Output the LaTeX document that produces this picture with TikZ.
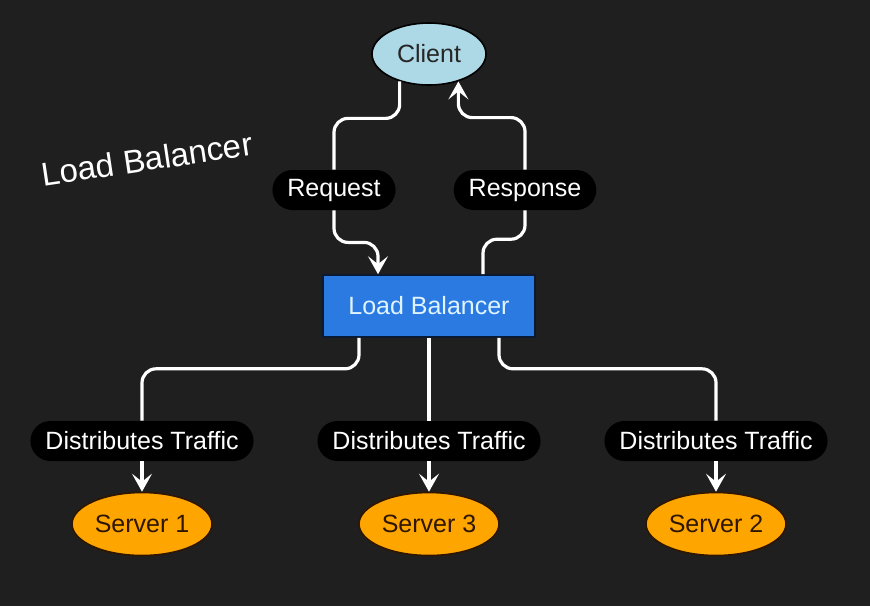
\documentclass[tikz,border=0pt]{standalone}
\usepackage{fontspec}
\setmainfont{Liberation Sans}
\usetikzlibrary{arrows.meta,positioning,calc,shapes.geometric}
\definecolor{bg}{HTML}{1F1F1F}
\definecolor{sky}{HTML}{ADD8E6}
\definecolor{lbblue}{HTML}{2A7AE2}
\definecolor{lbtext}{HTML}{E0F4FF}
\definecolor{navy}{HTML}{0B1A33}
\definecolor{amber}{HTML}{FFA500}
\definecolor{rust}{HTML}{2E1600}

\begin{document}
\begin{tikzpicture}[x=0.5pt,y=-0.5pt,font=\fontsize{12.5}{15}\selectfont,
              cl/.style={ellipse,draw=black,line width=0.8pt,fill=sky,text=black!85,
                minimum width=57pt,minimum height=31pt,inner sep=0},
              srv/.style={ellipse,draw=rust,line width=0.8pt,fill=amber,text=rust,
                minimum width=70pt,minimum height=31.5pt,inner sep=0},
              lbbox/.style={rectangle,draw=navy,line width=0.8pt,fill=lbblue,text=lbtext,
                minimum width=106pt,minimum height=31pt,inner sep=0},
              pill/.style={rectangle,rounded corners=10pt,fill=black,text=white,
                minimum height=20pt,inner xsep=7.5pt,inner ysep=0},
              flow/.style={draw=white,line width=1.6pt,rounded corners=7pt},
              arr/.style={-{Stealth[length=9pt,width=10pt,inset=4pt]}}]
              \fill[bg] (0,0) rectangle (870,606);
              \useasboundingbox (0,0) rectangle (870,606);
              \node[font=\fontsize{16.5}{19}\selectfont,text=white,rotate=8.5] (ttl) at (147,159) {Load Balancer};
              \node[cl] (client) at (429,54) {Client};
              \node[lbbox] (lb) at (429,306) {Load Balancer};
              \node[pill] (req) at (334,190) {Request};
              \node[pill] (resp) at (525,190) {Response};
              \node[pill] (d1) at (142,441) {Distributes Traffic};
              \node[pill] (d3) at (429,441) {Distributes Traffic};
              \node[pill] (d2) at (716,441) {Distributes Traffic};
              \node[srv] (s1) at (142,524) {Server 1};
              \node[srv] (s3) at (429,524) {Server 3};
              \node[srv] (s2) at (716,524) {Server 2};
              % client <-> balancer
              \draw[flow] (client.223) -- ++(0,37) -| (req);
              \draw[flow,arr] (req.south) -- ++(0,32) -| ([xshift=-25.5pt]lb.north);
              \draw[flow] ([xshift=27pt]lb.north) -- ++(0,-35) -| (resp);
              \draw[flow,arr] (resp.north) -- ++(0,-52) -| (client.317);
              % balancer -> servers
              \draw[flow] ([xshift=-35pt]lb.south) -- ++(0,31) -| (d1);
              \draw[flow] (lb) -- (d3);
              \draw[flow] ([xshift=35pt]lb.south) -- ++(0,31) -| (d2);
              \draw[flow,arr] (d1) -- (s1);
              \draw[flow,arr] (d3) -- (s3);
              \draw[flow,arr] (d2) -- (s2);
\end{tikzpicture}
\end{document}
